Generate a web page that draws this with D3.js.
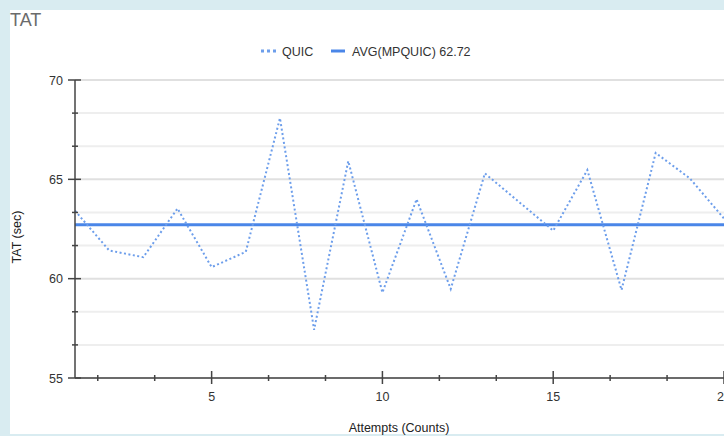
<!DOCTYPE html>
<html lang="en">
<head>
    <meta charset="UTF-8">
    <title>TAT</title>
    <script src="https://cdnjs.cloudflare.com/ajax/libs/d3/7.8.5/d3.min.js"></script>
    <style>
        body { margin: 0; background: #d9ecf1; font-family: "Liberation Sans", Arial, sans-serif; }
        #chart { position: absolute; left: 10px; top: 10px; width: 714px; height: 424px; background: #fff; }
        svg { position: absolute; left: 0; top: 0; }
    </style>
</head>
<body>
    <div id="chart"></div>
    <svg id="svg" width="724" height="436"></svg>

    <script>
        // Data
        const attempts = d3.range(1, 21);
        const quic = [63.42, 61.42, 61.08, 63.53, 60.58, 61.35, 68.08, 57.43, 65.92, 59.3,
                      64.0, 59.48, 65.3, 63.86, 62.42, 65.47, 59.43, 66.33, 65.05, 63.03];
        const avgMpquic = 62.72;
        const yTicks = [55, 60, 65, 70];
        const xTicks = [5, 10, 15, 20];

        const svg = d3.select("#svg");
        const plot = { left: 75, right: 724, top: 80, bottom: 378 };
        const fs = 12.5;

        const x = d3.scaleLinear().domain([1, 20]).range([plot.left, plot.right]);
        const y = d3.scaleLinear().domain([55, 70]).range([plot.bottom, plot.top]);

        const step = 5 / 3;
        const yMinor = d3.range(55, 70.001, step);
        const xMinor = d3.range(0, 20.001, step).filter(v => v >= 1);

        // Title
        svg.append("text")
            .attr("x", 10).attr("y", 26)
            .attr("font-size", 18).attr("fill", "#6b6b6b")
            .text("TAT");

        // Grid lines
        svg.append("g").selectAll("line")
            .data(yMinor)
            .join("line")
            .attr("x1", plot.left).attr("x2", plot.right)
            .attr("y1", d => y(d)).attr("y2", d => y(d))
            .attr("stroke", (d, i) => i % 3 === 0 ? "#e0e0e0" : "#eeeeee")
            .attr("stroke-width", 2);

        // Average line
        svg.append("line")
            .attr("x1", plot.left).attr("x2", plot.right)
            .attr("y1", y(avgMpquic)).attr("y2", y(avgMpquic))
            .attr("stroke", "#4a86e8")
            .attr("stroke-width", 3);

        // QUIC dotted line
        const line = d3.line()
            .x((d, i) => x(attempts[i]))
            .y(d => y(d));

        svg.append("path")
            .datum(quic)
            .attr("d", line)
            .attr("fill", "none")
            .attr("stroke", "#6d9eeb")
            .attr("stroke-width", 2)
            .attr("stroke-dasharray", "2,2.5");

        // Axes lines
        svg.append("line")
            .attr("x1", plot.left).attr("x2", plot.left)
            .attr("y1", plot.top).attr("y2", plot.bottom)
            .attr("stroke", "#444").attr("stroke-width", 1.5);
        svg.append("line")
            .attr("x1", plot.left).attr("x2", plot.right)
            .attr("y1", plot.bottom).attr("y2", plot.bottom)
            .attr("stroke", "#444").attr("stroke-width", 1.5);

        // Y ticks
        svg.append("g").selectAll("line")
            .data(yMinor)
            .join("line")
            .attr("x1", (d, i) => i % 3 === 0 ? plot.left - 7 : plot.left - 3)
            .attr("x2", (d, i) => i % 3 === 0 ? plot.left + 6 : plot.left + 3)
            .attr("y1", d => y(d)).attr("y2", d => y(d))
            .attr("stroke", "#444").attr("stroke-width", 1.5);

        svg.append("g").selectAll("text")
            .data(yTicks)
            .join("text")
            .attr("x", 63)
            .attr("y", d => y(d) + 4.5)
            .attr("text-anchor", "end")
            .attr("font-size", fs)
            .attr("fill", "#333")
            .text(d => d);

        // X ticks
        svg.append("g").selectAll("line")
            .data(xMinor)
            .join("line")
            .attr("x1", d => x(d)).attr("x2", d => x(d))
            .attr("y1", d => Math.abs(d % 5) < 0.01 ? plot.bottom - 7 : plot.bottom - 3)
            .attr("y2", d => Math.abs(d % 5) < 0.01 ? plot.bottom + 6 : plot.bottom + 3)
            .attr("stroke", "#444").attr("stroke-width", 1.5);

        svg.append("g").selectAll("text")
            .data(xTicks)
            .join("text")
            .attr("x", d => x(d))
            .attr("y", 401)
            .attr("text-anchor", "middle")
            .attr("font-size", fs)
            .attr("fill", "#333")
            .text(d => d);

        // Axis titles
        svg.append("text")
            .attr("x", 399).attr("y", 432)
            .attr("text-anchor", "middle")
            .attr("font-size", fs).attr("fill", "#222")
            .text("Attempts (Counts)");

        svg.append("text")
            .attr("transform", "translate(21,237) rotate(-90)")
            .attr("text-anchor", "middle")
            .attr("font-size", fs).attr("fill", "#222")
            .text("TAT (sec)");

        // Legend
        const legend = svg.append("g").attr("transform", "translate(0,51)");
        legend.append("line")
            .attr("x1", 261).attr("x2", 276).attr("y1", 0).attr("y2", 0)
            .attr("stroke", "#6d9eeb").attr("stroke-width", 3)
            .attr("stroke-dasharray", "3,3");
        legend.append("text")
            .attr("x", 282).attr("y", 4.5)
            .attr("font-size", fs).attr("fill", "#333")
            .text("QUIC");
        legend.append("line")
            .attr("x1", 331).attr("x2", 345).attr("y1", 0).attr("y2", 0)
            .attr("stroke", "#4a86e8").attr("stroke-width", 3);
        legend.append("text")
            .attr("x", 352).attr("y", 4.5)
            .attr("font-size", fs).attr("fill", "#333")
            .text("AVG(MPQUIC) " + avgMpquic);
    </script>
</body>
</html>
